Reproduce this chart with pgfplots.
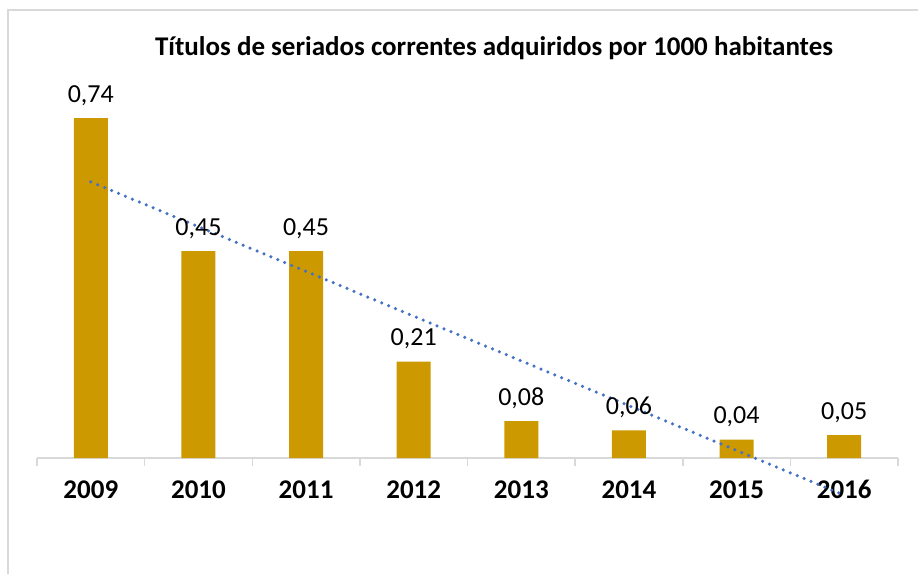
\documentclass[border=0pt]{standalone}
\usepackage{pgfplots}
\pgfplotsset{compat=1.18}
\usepackage{fontspec}
\setmainfont{Carlito}
\definecolor{barcol}{HTML}{CC9900}
\definecolor{trend}{HTML}{4472C4}
\definecolor{framecol}{HTML}{D9D9D9}

\begin{document}
\begin{tikzpicture}
% page = 918 x 573 px, 1px = 1pt, origin top left
\path[use as bounding box] (0pt,0pt) rectangle (918pt,-573pt);
\draw[framecol, line width=2pt] (8pt,-600pt) -- (8pt,-10pt) -- (940pt,-10pt);
\node[anchor=base, font=\bfseries\fontsize{27}{32}\selectfont] at (494pt,-55pt)
  {Títulos de seriados correntes adquiridos por 1000 habitantes};

\begin{axis}[
  at={(37pt,-458pt)}, anchor=south west,
  scale only axis, width=861pt, height=408pt,
  xmin=0.5, xmax=8.5, ymin=0, ymax=0.888,
  axis x line*=bottom, axis y line=none, clip=false,
  ytick=\empty,
  xtick={1,2,3,4,5,6,7,8},
  xticklabels={2009,2010,2011,2012,2013,2014,2015,2016},
  minor xtick={0.5,1.5,2.5,3.5,4.5,5.5,6.5,7.5,8.5},
  major tick length=0pt, minor tick length=8pt,
  xtick align=outside,
  minor tick style={framecol, line width=1.5pt},
  x axis line style={framecol, line width=1.5pt, -},
  xticklabel style={font=\bfseries\fontsize{27}{32}\selectfont, anchor=base, yshift=-40pt},
]
\addplot[ybar, bar width=34pt, bar shift=0pt, fill=barcol, draw=none,
  point meta=explicit symbolic, nodes near coords,
  every node near coord/.append style={font=\fontsize{26}{30}\selectfont, anchor=base, yshift=16pt}]
  coordinates {
  (1,0.74) [0,74]
  (2,0.45) [0,45]
  (3,0.45) [0,45]
  (4,0.21) [0,21]
  (5,0.08) [0,08]
  (6,0.06) [0,06]
  (7,0.04) [0,04]
  (8,0.05) [0,05]
};
\addplot[trend, line width=3.5pt, line cap=round, dash pattern=on 0pt off 7.5pt]
  coordinates {(1,0.601) (8,-0.081)};
\end{axis}
\end{tikzpicture}
\end{document}
